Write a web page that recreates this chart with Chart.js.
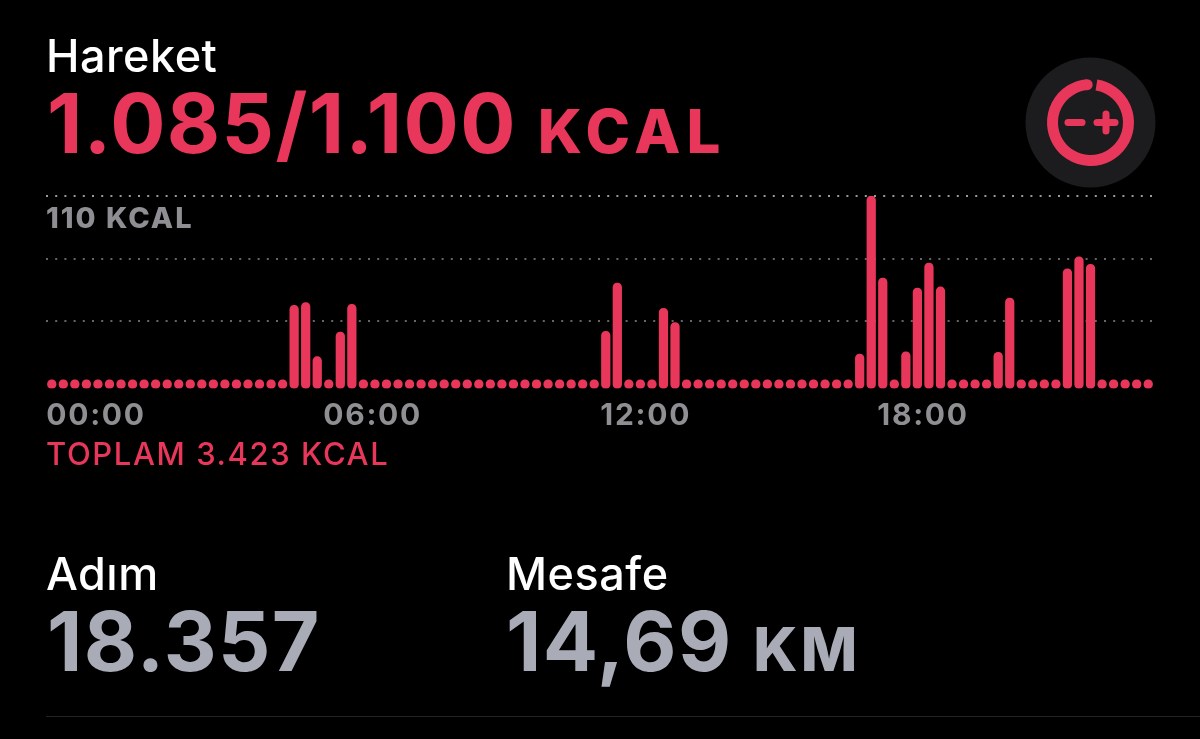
<!DOCTYPE html>
<html lang="tr">
<head>
<meta charset="UTF-8">
<title>Hareket</title>
<script src="https://cdn.jsdelivr.net/npm/chart.js"></script>
<style>
    html, body { margin: 0; padding: 0; background: #000; }
    body { width: 1200px; height: 739px; overflow: hidden; position: relative; font-family: Inter, "Liberation Sans", sans-serif; }
    #moveChart { position: absolute; left: 0; top: 0; }
    .txt { position: absolute; white-space: nowrap; line-height: 1; }
    .label { color: #fff; font-size: 45px; font-weight: 500; letter-spacing: .5px; }
    .big { font-size: 82px; font-weight: 700; letter-spacing: 1.4px; }
    .unit { font-size: 60px; font-weight: 800; letter-spacing: 3px; }
    .red { color: #e8375a; }
    .grey { color: #a9acb7; }
    #sep { position: absolute; left: 46px; right: 0; top: 716px; height: 1px; background: #222; }
    #ring { position: absolute; left: 1025px; top: 57px; }
</style>
</head>
<body>
<canvas id="moveChart" width="1200" height="739"></canvas>

<div class="txt label" style="left:46px;top:33px;">Hareket</div>
<div class="txt red big" style="left:47px;top:83px;">1.085/1.100 <span class="unit" style="letter-spacing:6px;">KCAL</span></div>
<div class="txt" style="left:46px;top:203px;font-size:29px;font-weight:800;letter-spacing:2px;color:#8e8e93;">110 KCAL</div>
<div class="txt red" style="left:46px;top:438px;font-size:31px;font-weight:500;letter-spacing:1.6px;">TOPLAM 3.423 KCAL</div>
<div class="txt label" style="left:46px;top:551px;">Adım</div>
<div class="txt label" style="left:506px;top:551px;">Mesafe</div>
<div class="txt grey big" style="left:47px;top:601px;">18.357</div>
<div class="txt grey big" style="left:506px;top:601px;">14,69 <span class="unit">KM</span></div>
<div id="sep"></div>

<svg id="ring" width="131" height="131" viewBox="0 0 131 131">
    <circle cx="65.5" cy="65.5" r="65" fill="#1c1c1e"/>
    <path id="ringArc" fill="none" stroke="#e8375a" stroke-width="11"/>
    <circle id="ringCap" r="5.5" fill="#e8375a"/>
    <line x1="43" y1="65.5" x2="57" y2="65.5" stroke="#e8375a" stroke-width="7" stroke-linecap="round"/>
    <line x1="72" y1="65.5" x2="90" y2="65.5" stroke="#e8375a" stroke-width="7" stroke-linecap="round"/>
    <line x1="81" y1="57" x2="81" y2="74" stroke="#e8375a" stroke-width="7" stroke-linecap="round"/>
</svg>

<script>
    // one slot per 15 minutes
    const slots = [
        '00:00','00:15','00:30','00:45','01:00','01:15','01:30','01:45','02:00','02:15','02:30','02:45',
        '03:00','03:15','03:30','03:45','04:00','04:15','04:30','04:45','05:00','05:15','05:30','05:45',
        '06:00','06:15','06:30','06:45','07:00','07:15','07:30','07:45','08:00','08:15','08:30','08:45',
        '09:00','09:15','09:30','09:45','10:00','10:15','10:30','10:45','11:00','11:15','11:30','11:45',
        '12:00','12:15','12:30','12:45','13:00','13:15','13:30','13:45','14:00','14:15','14:30','14:45',
        '15:00','15:15','15:30','15:45','16:00','16:15','16:30','16:45','17:00','17:15','17:30','17:45',
        '18:00','18:15','18:30','18:45','19:00','19:15','19:30','19:45','20:00','20:15','20:30','20:45',
        '21:00','21:15','21:30','21:45','22:00','22:15','22:30','22:45','23:00','23:15','23:30','23:45'
    ];
    const kcal = [
        0,0,0,0,0,0,0,0,0,0,0,0,
        0,0,0,0,0,0,0,0,0,46,47.6,16,
        0,30.4,46.6,0,0,0,0,0,0,0,0,0,
        0,0,0,0,0,0,0,0,0,0,0,0,
        30.8,59,0,0,0,44.3,36,0,0,0,0,0,
        0,0,0,0,0,0,0,0,0,0,17.5,110,
        62,0,18.9,56.2,70.7,56.8,0,0,0,0,18.5,50.3,
        0,0,0,0,67.4,74.4,70,0,0,0,0,0
    ];
    const xTickLabels = ['00:00','06:00','12:00','18:00'];
    const gridValues = [36.67, 73.33, 110];

    const red = '#e8375a';

    // ring icon, open just right of the top
    const r = 38, c = 65.5;
    const pt = deg => {
        const a = deg * Math.PI / 180;
        return [c + r * Math.sin(a), c - r * Math.cos(a)];
    };
    const ringStart = pt(9), ringEnd = pt(-5);
    document.getElementById('ringArc').setAttribute('d',
        'M' + ringStart.join(' ') + ' A' + r + ' ' + r + ' 0 1 1 ' + ringEnd.join(' '));
    document.getElementById('ringCap').setAttribute('cx', ringEnd[0]);
    document.getElementById('ringCap').setAttribute('cy', ringEnd[1]);

    new Chart(document.getElementById('moveChart').getContext('2d'), {
        type: 'bar',
        data: {
            labels: slots,
            datasets: [{
                data: kcal,
                base: -2.6,
                backgroundColor: red,
                barThickness: 8.6,
                minBarLength: 8.6,
                borderRadius: 4.3,
                borderSkipped: false
            }]
        },
        plugins: [{
            // tick labels are set wider in the original
            id: 'tickSpacing',
            beforeDraw: chart => { chart.ctx.letterSpacing = '1.7px'; }
        }],
        options: {
            responsive: false,
            animation: false,
            layout: { padding: { left: 46, right: 46, top: 196, bottom: 0 } },
            plugins: { legend: { display: false }, tooltip: { enabled: false } },
            scales: {
                x: {
                    grid: { display: false },
                    border: { display: false },
                    afterFit: s => { s.height = 350.5; },
                    ticks: {
                        autoSkip: false,
                        maxRotation: 0,
                        align: 'start',
                        labelOffset: -5.5,
                        padding: 1,
                        color: '#8e8e93',
                        font: { family: 'Inter', size: 30, weight: '700' },
                        callback: function (v) {
                            const l = this.getLabelForValue(v);
                            return xTickLabels.includes(l) ? l : '';
                        }
                    }
                },
                y: {
                    min: -2.6,
                    max: 110,
                    afterFit: s => { s.width = 0; },
                    afterBuildTicks: s => { s.ticks = gridValues.map(v => ({ value: v })); },
                    ticks: { display: false },
                    grid: {
                        drawTicks: false,
                        lineWidth: 2,
                        color: ctx => ctx.tick && ctx.tick.value === 110 ? '#9a9a9a' : '#666'
                    },
                    border: { display: false, dash: [2, 7.2] }
                }
            }
        }
    });
</script>
</body>
</html>
